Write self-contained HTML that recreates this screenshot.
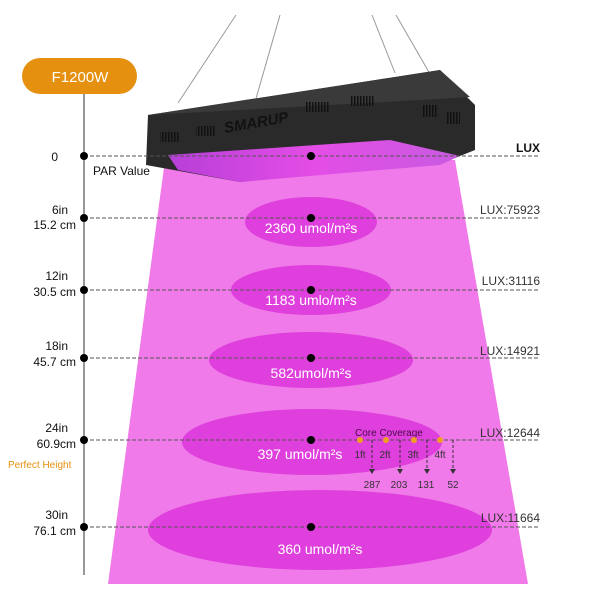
<!DOCTYPE html>
<html><head><meta charset="utf-8"><style>
body{margin:0;background:#fff}
svg{display:block}
text{font-family:"Liberation Sans",sans-serif}
</style></head><body>
<svg width="600" height="600" viewBox="0 0 600 600">
<defs>
<linearGradient id="led" x1="0" y1="0" x2="1" y2="0">
<stop offset="0" stop-color="#b63fd8"/><stop offset="0.5" stop-color="#e44de6"/><stop offset="1" stop-color="#c85be0"/>
</linearGradient>
<pattern id="vent" width="3" height="10" patternUnits="userSpaceOnUse"><rect width="1.5" height="10" fill="#111"/></pattern>
</defs>
<polygon points="165,160 455,160 528,584 108,584" fill="#f07ae9"/>
<g stroke="#999" stroke-width="1">
<line x1="236" y1="15" x2="178" y2="103"/>
<line x1="280" y1="15" x2="255" y2="102"/>
<line x1="372" y1="15" x2="395" y2="73"/>
<line x1="396" y1="15" x2="445" y2="100"/>
</g>
<polygon points="148,115 395,77 440,70 475,105 475,150 455,158 240,182 146,165" fill="#2a2a2a"/>
<polygon points="148,115 395,77 440,70 470,97 420,100" fill="#3a3a3a"/>
<polygon points="168,155 390,140 460,156 440,165 240,182 178,170" fill="url(#led)"/>
<text x="225" y="133" font-size="15" font-style="italic" font-weight="bold" fill="#111" transform="rotate(-10 225 133)">SMARUP</text>
<g fill="url(#vent)">
<rect x="160" y="132" width="20" height="10"/><rect x="196" y="126" width="20" height="10"/>
<rect x="305" y="102" width="25" height="10"/><rect x="350" y="96" width="25" height="10"/>
<rect x="423" y="105" width="15" height="12"/><rect x="446" y="112" width="14" height="12"/>
</g>
<line x1="84" y1="90" x2="84" y2="575" stroke="#777" stroke-width="1.5"/>
<rect x="22" y="58" width="115" height="36" rx="18" fill="#e5900f"/>
<text x="80" y="82" font-size="15" fill="#fff" text-anchor="middle">F1200W</text>
<g fill="#df3fdd">
<ellipse cx="311" cy="222" rx="66" ry="25"/>
<ellipse cx="311" cy="290" rx="80" ry="25"/>
<ellipse cx="311" cy="360" rx="102" ry="28"/>
<ellipse cx="312" cy="442" rx="130" ry="33"/>
<ellipse cx="320" cy="530" rx="172" ry="40"/>
</g>
<g stroke="#555" stroke-width="1" stroke-dasharray="4,2">
<line x1="84" y1="156" x2="540" y2="156"/>
<line x1="84" y1="218" x2="540" y2="218"/>
<line x1="84" y1="290" x2="540" y2="290"/>
<line x1="84" y1="358" x2="540" y2="358"/>
<line x1="84" y1="440" x2="540" y2="440"/>
<line x1="84" y1="527" x2="540" y2="527"/>
</g>
<g fill="#000">
<circle cx="84" cy="156" r="4"/><circle cx="311" cy="156" r="4"/>
<circle cx="84" cy="218" r="4"/><circle cx="311" cy="218" r="4"/>
<circle cx="84" cy="290" r="4"/><circle cx="311" cy="290" r="4"/>
<circle cx="84" cy="358" r="4"/><circle cx="311" cy="358" r="4"/>
<circle cx="84" cy="440" r="4"/><circle cx="311" cy="440" r="4"/>
<circle cx="84" cy="527" r="4"/><circle cx="311" cy="527" r="4"/>
</g>
<g font-size="12" fill="#111" text-anchor="end">
<text x="58" y="161">0</text>
<text x="68" y="214">6in</text><text x="76" y="229">15.2 cm</text>
<text x="68" y="280">12in</text><text x="76" y="296">30.5 cm</text>
<text x="68" y="350">18in</text><text x="76" y="366">45.7 cm</text>
<text x="68" y="432">24in</text><text x="76" y="448">60.9cm</text>
<text x="68" y="519">30in</text><text x="76" y="535">76.1 cm</text>
</g>
<text x="8" y="468" font-size="10" fill="#e5900f">Perfect Height</text>
<text x="93" y="175" font-size="12" fill="#111">PAR Value</text>
<text x="540" y="152" font-size="12" font-weight="bold" fill="#111" text-anchor="end">LUX</text>
<g font-size="12" fill="#333" text-anchor="end">
<text x="540" y="214">LUX:75923</text>
<text x="540" y="285">LUX:31116</text>
<text x="540" y="355">LUX:14921</text>
<text x="540" y="437">LUX:12644</text>
<text x="540" y="522">LUX:11664</text>
</g>
<g font-size="14" fill="#fff" text-anchor="middle">
<text x="311" y="233">2360 umol/m²s</text>
<text x="311" y="305">1183 umlo/m²s</text>
<text x="311" y="378">582umol/m²s</text>
<text x="300" y="459">397 umol/m²s</text>
<text x="320" y="554">360 umol/m²s</text>
</g>
<text x="355" y="436" font-size="10" fill="#4a0a4a">Core Coverage</text>
<g fill="#f0a020"><circle cx="360" cy="440" r="3"/><circle cx="386" cy="440" r="3"/><circle cx="414" cy="440" r="3"/><circle cx="440" cy="440" r="3"/></g>
<g font-size="10" fill="#333" text-anchor="middle">
<text x="360" y="458">1ft</text><text x="385" y="458">2ft</text><text x="413" y="458">3ft</text><text x="440" y="458">4ft</text>
<text x="372" y="488">287</text><text x="399" y="488">203</text><text x="426" y="488">131</text><text x="453" y="488">52</text>
</g>
<g stroke="#333" stroke-width="1" stroke-dasharray="3,2">
<line x1="372" y1="440" x2="372" y2="470"/><line x1="400" y1="440" x2="400" y2="470"/>
<line x1="427" y1="440" x2="427" y2="470"/><line x1="453" y1="440" x2="453" y2="470"/>
</g>
<g fill="#333">
<polygon points="369,469 375,469 372,474"/><polygon points="397,469 403,469 400,474"/>
<polygon points="424,469 430,469 427,474"/><polygon points="450,469 456,469 453,474"/>
</g>
</svg>
</body></html>
